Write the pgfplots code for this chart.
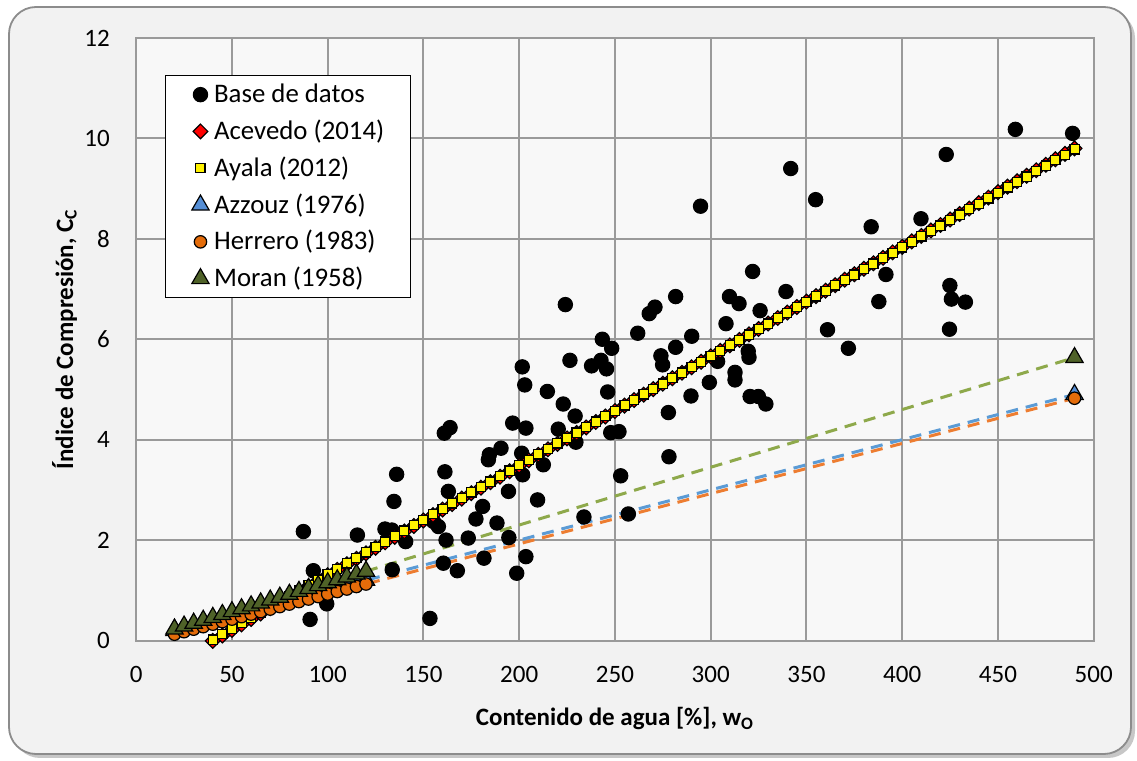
\documentclass[border=0pt]{standalone}
\usepackage{fontspec}
\setmainfont{Carlito}
\usepackage{pgfplots}
\usepackage{pgfplotstable}
\pgfplotsset{compat=1.18}
\definecolor{framefill}{HTML}{F2F2F2}
\definecolor{framegray}{HTML}{8C8C8C}
\definecolor{plotbg}{HTML}{F8F8F8}
\definecolor{gridgray}{HTML}{9A9A9A}
\definecolor{azfill}{HTML}{558ED5}
\definecolor{azline}{HTML}{5B9BD5}
\definecolor{hefill}{HTML}{E46C0A}
\definecolor{heline}{HTML}{ED7D31}
\definecolor{mofill}{HTML}{4F6228}
\definecolor{moline}{HTML}{8EA94B}

\pgfplotstableread{
w cc
87.3 2.17
90.8 0.42
92.5 1.39
99.5 0.73
115.5 2.10
129.9 2.22
133.5 2.20
134.6 2.77
136.0 3.31
140.7 1.97
133.7 1.41
153.4 0.44
155.2 2.37
157.8 2.27
160.4 1.54
160.9 4.13
163.9 4.24
161.2 3.36
161.8 2.00
163.0 2.97
167.7 1.39
173.4 2.04
177.4 2.42
180.9 2.67
181.6 1.64
183.9 3.60
184.4 3.70
188.4 2.34
190.5 3.83
194.4 2.97
194.6 2.05
196.6 4.33
198.7 1.34
201.3 3.73
201.8 3.30
201.6 5.45
202.9 5.09
203.5 4.23
203.5 1.67
209.6 2.80
212.6 3.50
214.7 4.96
220.4 4.21
223.0 4.71
224.1 6.69
226.5 5.58
229.2 4.47
229.6 3.95
233.8 2.46
237.8 5.47
242.7 5.58
243.4 6.00
245.6 5.41
246.2 4.95
247.8 4.14
248.3 5.82
252.1 4.16
253.0 3.28
257.0 2.52
261.9 6.12
267.9 6.51
270.9 6.64
274.0 5.67
274.9 5.49
277.9 4.54
278.2 3.66
281.7 6.85
281.7 5.84
289.7 4.87
290.1 6.06
294.7 8.65
299.3 5.14
303.6 5.56
308.0 6.31
309.8 6.85
312.7 5.34
312.7 5.19
314.8 6.71
319.6 5.76
320.0 5.64
320.6 4.86
321.9 7.35
324.9 4.86
325.8 6.57
328.8 4.71
339.3 6.95
341.8 9.40
354.8 8.78
361.0 6.19
371.9 5.82
383.8 8.24
387.8 6.75
391.5 7.29
409.8 8.40
423.0 9.68
424.9 7.07
425.7 6.80
424.7 6.20
433.0 6.74
459.1 10.18
489.0 10.10
}\basedatos

\pgfplotstableread{
w ac ay
40 -0.008 0.018
45 0.101 0.127
50 0.210 0.235
55 0.319 0.344
60 0.428 0.452
65 0.537 0.561
70 0.646 0.669
75 0.755 0.778
80 0.864 0.886
85 0.973 0.995
90 1.082 1.103
95 1.191 1.212
100 1.300 1.320
105 1.409 1.429
110 1.518 1.537
115 1.627 1.646
120 1.736 1.754
125 1.845 1.863
130 1.954 1.971
135 2.063 2.080
140 2.172 2.188
145 2.281 2.297
150 2.390 2.405
155 2.499 2.514
160 2.608 2.622
165 2.717 2.731
170 2.826 2.839
175 2.935 2.948
180 3.044 3.056
185 3.153 3.165
190 3.262 3.273
195 3.371 3.382
200 3.480 3.490
205 3.589 3.599
210 3.698 3.707
215 3.807 3.816
220 3.916 3.924
225 4.025 4.033
230 4.134 4.141
235 4.243 4.250
240 4.352 4.358
245 4.461 4.467
250 4.570 4.575
255 4.679 4.684
260 4.788 4.792
265 4.897 4.901
270 5.006 5.009
275 5.115 5.118
280 5.224 5.226
285 5.333 5.335
290 5.442 5.443
295 5.551 5.552
300 5.660 5.660
305 5.769 5.769
310 5.878 5.877
315 5.987 5.986
320 6.096 6.094
325 6.205 6.203
330 6.314 6.311
335 6.423 6.420
340 6.532 6.528
345 6.641 6.637
350 6.750 6.745
355 6.859 6.854
360 6.968 6.962
365 7.077 7.071
370 7.186 7.179
375 7.295 7.288
380 7.404 7.396
385 7.513 7.505
390 7.622 7.613
395 7.731 7.722
400 7.840 7.830
405 7.949 7.939
410 8.058 8.047
415 8.167 8.156
420 8.276 8.264
425 8.385 8.373
430 8.494 8.481
435 8.603 8.590
440 8.712 8.698
445 8.821 8.807
450 8.930 8.915
455 9.039 9.024
460 9.148 9.132
465 9.257 9.241
470 9.366 9.349
475 9.475 9.458
480 9.584 9.566
485 9.693 9.675
490 9.802 9.783
}\lineas

\pgfplotstableread{
w az he mo
20 0.200 0.125 0.230
25 0.250 0.175 0.288
30 0.300 0.225 0.345
35 0.350 0.275 0.403
40 0.400 0.325 0.460
45 0.450 0.375 0.518
50 0.500 0.425 0.575
55 0.550 0.475 0.633
60 0.600 0.525 0.690
65 0.650 0.575 0.748
70 0.700 0.625 0.805
75 0.750 0.675 0.863
80 0.800 0.725 0.920
85 0.850 0.775 0.978
90 0.900 0.825 1.035
95 0.950 0.875 1.093
100 1.000 0.925 1.150
105 1.050 0.975 1.208
110 1.100 1.025 1.265
115 1.150 1.075 1.323
120 1.200 1.125 1.380
490 4.900 4.825 5.635
}\modelos

\begin{document}
\begin{tikzpicture}[x=0.5pt,y=0.5pt]
\useasboundingbox (0,0) rectangle (1137,761);
\fill[black!22, rounded corners=13.5pt] (13,750) rectangle (1135,3);
\draw[framegray, fill=framefill, line width=0.9pt, rounded corners=13.5pt] (9,754) rectangle (1131,7);
\begin{axis}[
  at={(68.1pt,60.25pt)}, anchor=south west,
  scale only axis, width=478.75pt, height=301.25pt,
  xmin=0, xmax=500, ymin=0, ymax=12,
  xtick={0,50,...,500}, ytick={0,2,...,12},
  major tick length=0pt,
  grid=major, grid style={draw=gridgray, line width=1pt},
  axis line style={draw=gridgray, line width=1pt},
  axis background/.style={fill=plotbg},
  clip=false,
  /pgf/number format/assume math mode=true,
  tick label style={font=\fontsize{12.5}{15}\selectfont, inner sep=0pt},
  yticklabel style={anchor=east, xshift=-13pt},
  xticklabel style={anchor=north, yshift=-12.5pt},
  label style={font=\fontsize{12.5}{15}\selectfont\bfseries},
  xlabel={Contenido de agua [\%], w\textsubscript{O}},
  ylabel={Índice de Compresión, C\textsubscript{C}},
  xlabel style={at={(axis description cs:0.5,0)}, anchor=base, yshift=-42.5pt},
  ylabel style={at={(axis description cs:-0.066,0.5)}, anchor=base},
  legend image code/.code={\draw[mark repeat=2,mark phase=2,#1] plot coordinates {(0pt,0pt) (8.5pt,0pt) (15.5pt,0pt)};},
  legend cell align=left,
  legend style={at={(rel axis cs:0.0303,0.9385)}, anchor=north west, draw=black, line width=0.6pt, fill=white,
    font=\fontsize{13.4}{16}\selectfont, inner xsep=13pt, inner ysep=3.5pt, row sep=6.4pt, column sep=2.5pt,
    nodes={inner sep=0pt, text height=10pt, text depth=2pt}},
]
\addplot[only marks, mark=*, mark size=3.6pt, mark options={fill=black, draw=black, line width=0.5pt}] table[x=w, y=cc] {\basedatos};
\addlegendentry{Base de datos}
\addplot[only marks, mark=square*, mark size=2.6pt, mark options={rotate=45, fill=red, draw=black, line width=0.6pt}] table[x=w, y=ac] {\lineas};
\addlegendentry{Acevedo (2014)}
\addplot[only marks, mark=square*, mark size=2.3pt, mark options={fill=yellow, draw=black, line width=0.6pt}] table[x=w, y=ay] {\lineas};
\addlegendentry{Ayala (2012)}
\addplot[only marks, mark=triangle*, mark size=5pt, mark options={fill=azfill, draw=black, line width=0.6pt}] table[x=w, y=az] {\modelos};
\addlegendentry{Azzouz (1976)}
\addplot[only marks, mark=*, mark size=3.1pt, mark options={fill=hefill, draw=black, line width=0.6pt}] table[x=w, y=he] {\modelos};
\addlegendentry{Herrero (1983)}
\addplot[only marks, mark=triangle*, mark size=5pt, mark options={fill=mofill, draw=black, line width=0.6pt}] table[x=w, y=mo] {\modelos};
\addlegendentry{Moran (1958)}
\addplot[forget plot, no marks, draw=azline, line width=1.5pt, dash pattern=on 6pt off 4pt] table[x=w, y=az] {\modelos};
\addplot[forget plot, no marks, draw=heline, line width=1.5pt, dash pattern=on 6pt off 4pt] table[x=w, y=he] {\modelos};
\addplot[forget plot, no marks, draw=moline, line width=1.5pt, dash pattern=on 6pt off 4pt] table[x=w, y=mo] {\modelos};
\end{axis}
\end{tikzpicture}
\end{document}
